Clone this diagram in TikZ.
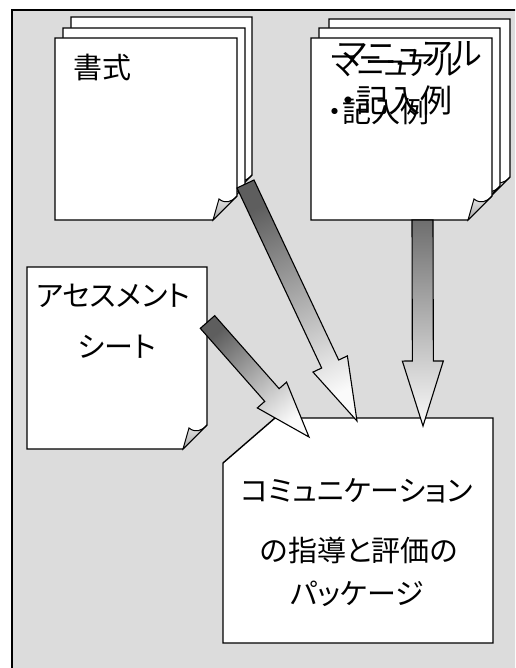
\documentclass[tikz,border=0pt]{standalone}
\usepackage{fontspec}
\newfontfamily\jp[RawFeature=+palt]{Noto Sans CJK JP}
\usetikzlibrary{calc}
\definecolor{bg}{HTML}{DCDCDC}
\definecolor{shaftdark}{HTML}{5E5E5E}
\definecolor{shaftdarkv}{HTML}{6E6E6E}
\definecolor{shaftlight}{HTML}{FAFAFA}
\definecolor{flapdark}{HTML}{A8A8A8}
\definecolor{flaplight}{HTML}{E8E8E8}
\tikzset{
  pageshape/.style={draw=black, line width=1.4pt, fill=white, line join=miter},
  flapshape/.style={draw=black, line width=1pt, top color=flaplight, bottom color=flapdark},
  lbl/.style={font=\jp\fontsize{29}{34}\selectfont, inner sep=0pt},
  lblbig/.style={font=\jp\fontsize{32}{36}\selectfont, inner sep=0pt},
  fatarrow/.style={draw=black, line width=1.1pt, line join=miter},
}
\newcommand\paperpage[4]{%
  \filldraw[pageshape] (#1,#2) -- ({#1+#3},#2) -- ({#1+#3},{#2+#4-24}) -- ({#1+#3-24},{#2+#4}) -- (#1,{#2+#4}) -- cycle;
  \shadedraw[flapshape] ({#1+#3-24},{#2+#4}) -- ({#1+#3-18},{#2+#4-21})
     .. controls ({#1+#3-12},{#2+#4-16}) and ({#1+#3-5},{#2+#4-18}) .. ({#1+#3},{#2+#4-24}) -- cycle;
}
\begin{document}
\begin{tikzpicture}[x=1pt, y=-1pt]
\useasboundingbox (0,0) rectangle (515,668);
\clip (0,0) rectangle (515,668);
% frame
\filldraw[fill=bg, draw=black, line width=2.2pt] (12,10) rectangle (545,700);

% 書式 stack
\paperpage{71}{17}{181}{182}
\paperpage{63}{28}{182}{182}
\paperpage{55}{38}{182}{182}
\node[lbl, anchor=west] (shoshiki) at (73,67) {書式};

% manual stack
\paperpage{329}{19}{181}{182}
\paperpage{319}{28}{181}{182}
\paperpage{311}{38}{181}{182}
\node[lblbig, anchor=west] (manA1) at (338,54) {マニュアル};
\node[lbl, anchor=west] (manB1) at (331,65) {マニュアル};
\node[lblbig, anchor=west] (manA2) at (340,100) {・記入例};
\node[lbl, anchor=west] (manB2) at (328,112) {・記入例};

% assessment sheet
\paperpage{27}{267}{180}{182}
\node[lbl] (as1) at (113,296) {アセスメント};
\node[lbl] (as2) at (117,347) {シート};

% package box
\filldraw[pageshape] (275,418) -- (493,418) -- (493,643) -- (223,643) -- (223,463) -- cycle;
\node[lbl] (pk1) at (357,491) {コミュニケーション};
\node[lbl] (pk2) at (359,550) {の指導と評価の};
\node[lbl] (pk3) at (357,594) {パッケージ};

% arrow 1 (書式 -> package)
\coordinate (a1s) at (245.5,184);
\coordinate (a1t) at (357,421);
\coordinate (a1b) at ($(a1t)!63pt!(a1s)$);
\shadedraw[fatarrow, top color=shaftlight, bottom color=shaftdark, shading angle=-154.9]
  ($(a1s)!9.4pt!90:(a1t)$) -- ($(a1b)!9.4pt!-90:(a1s)$) -- ($(a1b)!19pt!-90:(a1s)$) -- (a1t)
  -- ($(a1b)!19pt!90:(a1s)$) -- ($(a1b)!9.4pt!90:(a1s)$) -- ($(a1s)!9.4pt!-90:(a1t)$) -- cycle;

% arrow 2 (manual -> package)
\coordinate (a2s) at (422.5,220);
\coordinate (a2t) at (423,426);
\coordinate (a2b) at ($(a2t)!65pt!(a2s)$);
\shadedraw[fatarrow, top color=shaftdarkv, bottom color=shaftlight]
  ($(a2s)!10.5pt!90:(a2t)$) -- ($(a2b)!10.5pt!-90:(a2s)$) -- ($(a2b)!20.5pt!-90:(a2s)$) -- (a2t)
  -- ($(a2b)!20.5pt!90:(a2s)$) -- ($(a2b)!10.5pt!90:(a2s)$) -- ($(a2s)!10.5pt!-90:(a2t)$) -- cycle;

% arrow 3 (assessment -> package)
\coordinate (a3s) at (207.5,322);
\coordinate (a3t) at (309,437);
\coordinate (a3b) at ($(a3t)!56pt!(a3s)$);
\shadedraw[fatarrow, top color=shaftlight, bottom color=shaftdark, shading angle=-138.7]
  ($(a3s)!9.6pt!90:(a3t)$) -- ($(a3b)!9.6pt!-90:(a3s)$) -- ($(a3b)!19.5pt!-90:(a3s)$) -- (a3t)
  -- ($(a3b)!19.5pt!90:(a3s)$) -- ($(a3b)!9.6pt!90:(a3s)$) -- ($(a3s)!9.6pt!-90:(a3t)$) -- cycle;
\end{tikzpicture}
\end{document}
